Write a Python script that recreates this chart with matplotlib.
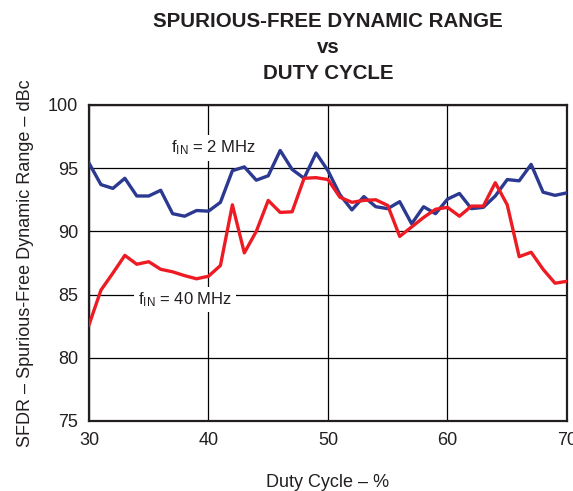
import matplotlib
matplotlib.use('Agg')
import matplotlib.pyplot as plt

plt.rcParams['font.family'] = ['Liberation Sans', 'DejaVu Sans']
plt.rcParams['mathtext.fontset'] = 'custom'
plt.rcParams['mathtext.rm'] = 'Liberation Sans'
plt.rcParams['mathtext.it'] = 'Liberation Sans'

duty = list(range(30, 71))

sfdr_2mhz = [95.4, 93.7, 93.4, 94.2, 92.8, 92.8, 93.25, 91.4, 91.2, 91.65,
             91.6, 92.3, 94.8, 95.1, 94.05, 94.4, 96.4, 94.9, 94.2, 96.2,
             94.8, 92.9, 91.7, 92.75, 91.95, 91.8, 92.35, 90.6, 91.95, 91.4,
             92.55, 93.0, 91.8, 91.9, 92.8, 94.1, 94.0, 95.3, 93.1, 92.85,
             93.05]

sfdr_40mhz = [82.6, 85.35, 86.7, 88.1, 87.4, 87.6, 87.0, 86.8, 86.5, 86.25,
              86.45, 87.3, 92.1, 88.3, 90.0, 92.45, 91.5, 91.55, 94.2, 94.25,
              94.1, 92.7, 92.3, 92.45, 92.5, 92.05, 89.6, 90.35, 91.1, 91.75,
              91.9, 91.2, 92.0, 92.0, 93.85, 92.1, 88.0, 88.35, 87.0, 85.9,
              86.05]

x_ticks = [30, 40, 50, 60, 70]
y_ticks = [75, 80, 85, 90, 95, 100]

text_color = '#231f20'

fig = plt.figure(figsize=(5.73, 4.91), dpi=100)
ax = fig.add_axes([0.1553, 0.1426, 0.8342, 0.6436])

ax.plot(duty, sfdr_2mhz, color='#2b3990', lw=2.4, zorder=3)
ax.plot(duty, sfdr_40mhz, color='#ed1c24', lw=2.4, zorder=3)

ax.set_xlim(30, 70)
ax.set_ylim(75, 100)
ax.set_xticks(x_ticks)
ax.set_yticks(y_ticks)
ax.grid(True, color='black', lw=0.9)
ax.tick_params(length=0, labelsize=13, colors=text_color, pad=8)
for s in ax.spines.values():
    s.set_linewidth(1.6)
    s.set_color(text_color)

ax.set_xlabel('Duty Cycle \u2013 %', fontsize=13, color=text_color, labelpad=18)
ax.set_ylabel('SFDR \u2013 Spurious-Free Dynamic Range \u2013 dBc',
              fontsize=13, color=text_color, labelpad=10)

box = dict(facecolor='white', edgecolor='none', pad=2.5)
ax.text(36.9, 96.6, r'f$_{\mathrm{IN}}$ = 2 MHz', fontsize=12,
        color=text_color, va='center', ha='left', bbox=box, zorder=2)
ax.text(34.1, 84.6, r'f$_{\mathrm{IN}}$ = 40 MHz', fontsize=12,
        color=text_color, va='center', ha='left', bbox=box, zorder=2)

fig.text(0.5725, 0.957, 'SPURIOUS-FREE DYNAMIC RANGE', fontsize=14.8,
         fontweight='bold', ha='center', va='center', color=text_color)
fig.text(0.5725, 0.903, 'vs', fontsize=14.8,
         fontweight='bold', ha='center', va='center', color=text_color)
fig.text(0.5725, 0.851, 'DUTY CYCLE', fontsize=14.8,
         fontweight='bold', ha='center', va='center', color=text_color)

fig.savefig('out.png', dpi=100)
